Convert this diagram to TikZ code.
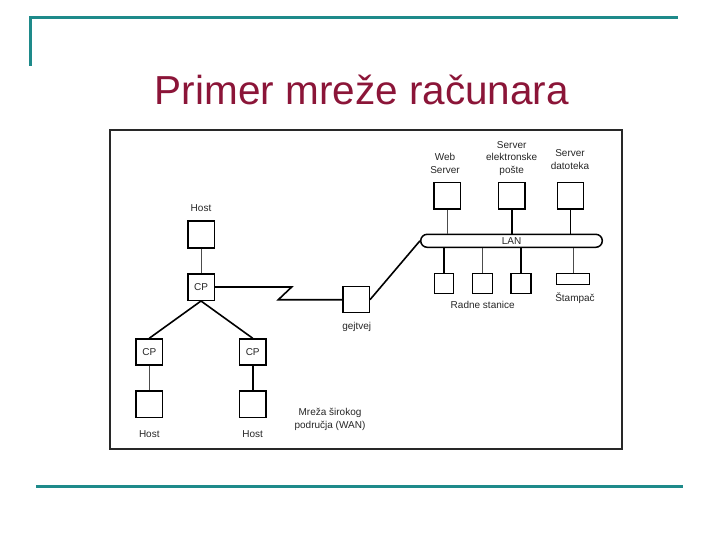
\documentclass[tikz,border=0pt]{standalone}
\usepackage{fontspec}
\setmainfont{Liberation Sans}
\definecolor{teal1}{RGB}{30,138,138}
\definecolor{maroon1}{RGB}{139,21,56}
\definecolor{frm}{RGB}{40,40,40}
\tikzset{
  box/.style={draw=black, line width=1.5pt, inner sep=0pt, fill=white},
  lbl/.style={font=\fontsize{10}{12.7}\selectfont, align=center, inner sep=0pt, text=black!85},
  thk/.style={line width=1.6pt},
  thn/.style={line width=0.9pt, draw=black!70},
  tealline/.style={draw=teal1, line width=3pt}
}
\begin{document}
\begin{tikzpicture}[x=1pt,y=-1pt]
\useasboundingbox (0,0) rectangle (720,540);
% slide decoration
\coordinate (t0) at (30.5,66);
\coordinate (t1) at (30.5,18);
\coordinate (t2) at (678,18);
\draw[tealline] (t0) -- (t1) -- (t2);
\coordinate (b0) at (36,486);
\coordinate (b1) at (683,486);
\draw[tealline] (b0) -- (b1);
% title
\node[anchor=base, text=maroon1, font=\fontsize{40.5}{40.5}\selectfont, inner sep=0pt] (title) at (362,104.5) {Primer mreže računara};
% frame
\node[draw=frm, line width=1.3pt, minimum width=512pt, minimum height=319pt, inner sep=0pt] (frame) at (366,289.5) {};
% WAN part
\node[box, minimum width=26.5pt, minimum height=26.5pt] (h0) at (201,234.5) {};
\node[lbl, anchor=base] (h0l) at (201,211.5) {Host};
\node[box, minimum width=26.5pt, minimum height=26.5pt, lbl] (cp0) at (201,287) {CP};
\node[box, minimum width=26.5pt, minimum height=26pt] (gw) at (356,299.7) {};
\node[lbl, anchor=base] (gwl) at (356.7,329.5) {gejtvej};
\node[box, minimum width=26.5pt, minimum height=26pt, lbl] (cpl) at (149.3,352) {CP};
\node[box, minimum width=26.5pt, minimum height=26pt, lbl] (cpr) at (252.7,352) {CP};
\node[box, minimum width=26.5pt, minimum height=26.5pt] (hl) at (149.3,404) {};
\node[box, minimum width=26.5pt, minimum height=26.5pt] (hr) at (252.7,404) {};
\node[lbl, anchor=base] (hll) at (149.3,437.5) {Host};
\node[lbl, anchor=base] (hrl) at (252.7,437.5) {Host};
\node[lbl, anchor=north] (wanl) at (330,408) {Mreža širokog\\područja (WAN)};
% LAN part
\node[draw=black, line width=1.5pt, minimum width=181.6pt, minimum height=13pt, rounded corners=6.5pt, inner sep=0pt, lbl] (lan) at (511.5,240.8) {LAN};
\node[box, minimum width=26.3pt, minimum height=26.7pt] (web) at (447.2,195.7) {};
\node[box, minimum width=26.5pt, minimum height=26.7pt] (mail) at (511.7,195.7) {};
\node[box, minimum width=26pt, minimum height=26.7pt] (file) at (570.3,195.7) {};
\node[lbl, anchor=north] (webl) at (445,153) {Web\\Server};
\node[lbl, anchor=north] (maill) at (511.7,141) {Server\\elektronske\\pošte};
\node[lbl, anchor=north] (filel) at (570,149.5) {Server\\datoteka};
\node[box, minimum width=19pt, minimum height=20pt] (ws1) at (443.8,283.3) {};
\node[box, minimum width=19.6pt, minimum height=20pt] (ws2) at (482.5,283.3) {};
\node[box, minimum width=20pt, minimum height=20pt] (ws3) at (521,283.3) {};
\node[box, minimum width=32.6pt, minimum height=11pt] (prn) at (573,278.8) {};
\node[lbl, anchor=north] (wsl) at (482.7,301.5) {Radne stanice};
\node[lbl, anchor=north] (prnl) at (575,293) {Štampač};
% connectors
\draw[thn] (h0.south) -- (cp0.north);
\coordinate (z1) at (291.7,287);
\coordinate (z2) at (278.3,299.7);
\draw[thk, line join=miter] (cp0.east) -- (z1) -- (z2) -- (gw.west);
\draw[thk] (gw.east) -- (lan.west);
\draw[thk] (cp0.south) -- (cpl.north);
\draw[thk] (cp0.south) -- (cpr.north);
\draw[thn] (cpl.south) -- (hl.north);
\draw[thk] (cpr.south) -- (hr.north);
\draw[thn] (web.south) -- (web.south |- lan.north);
\draw[thk] (mail.south) -- (mail.south |- lan.north);
\draw[thk] (file.south) -- (file.south |- lan.north);
\draw[thk] (ws1.north) -- (ws1.north |- lan.south);
\draw[thn] (ws2.north) -- (ws2.north |- lan.south);
\draw[thk] (ws3.north) -- (ws3.north |- lan.south);
\draw[thn] (prn.north) -- (prn.north |- lan.south);
\end{tikzpicture}
\end{document}
